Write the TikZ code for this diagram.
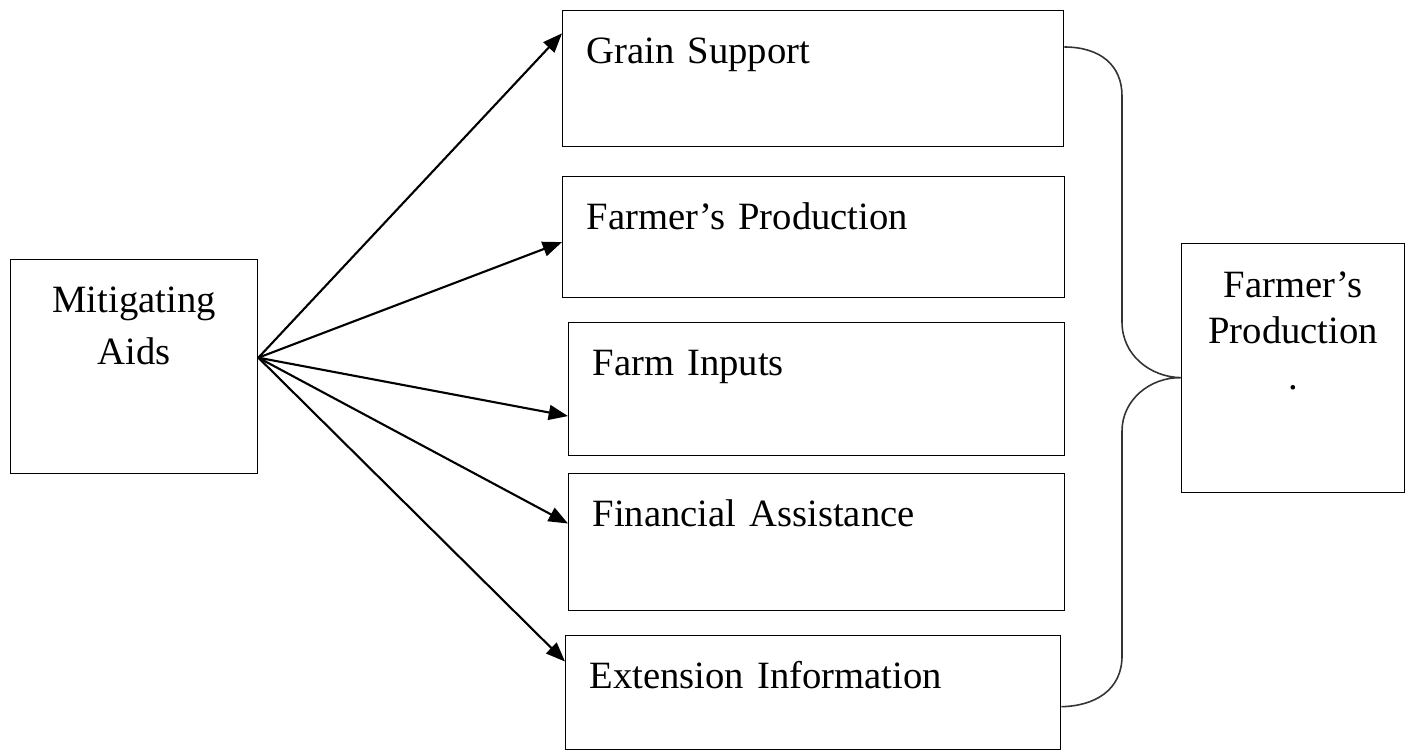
\documentclass[tikz,border=0pt]{standalone}
\usepackage{fontspec}
\setmainfont{Liberation Serif}
\usetikzlibrary{arrows.meta, calc}

\begin{document}
\begin{tikzpicture}[x=0.02cm, y=-0.02cm, >={Triangle[length=11pt,width=8.5pt]},
  every node/.style={font=\fontsize{22}{26}\selectfont},
  aidbox/.style={draw, line width=0.8pt, anchor=north west, inner ysep=0pt, inner xsep=0.48cm, align=left, text height=1.06cm},
  link/.style={->, line width=1.2pt}]

\useasboundingbox (0,0) rectangle (1409,751);

% Source box
\node[aidbox, align=center, inner xsep=0pt, text width=4.94cm, text depth=3.22cm, font=\fontsize{22}{29.5}\selectfont] (aids) at (10,259) {Mitigating\\Aids};

% Aid boxes
\node[aidbox, text width=9.06cm, text depth=1.66cm] (grain) at (562,10) {Grain Support};
\node[aidbox, text width=9.08cm, text depth=1.36cm] (prod) at (562,176) {Farmer’s Production};
\node[aidbox, text width=8.96cm, text depth=1.60cm] (inputs) at (568,322) {Farm Inputs};
\node[aidbox, text width=8.96cm, text depth=1.68cm] (finance) at (568,473) {Financial Assistance};
\node[aidbox, text width=8.94cm, text depth=1.22cm] (ext) at (565,635) {Extension Information};

% Outcome box
\node[aidbox, align=center, inner xsep=0pt, text width=4.46cm, text height=1.08cm, text depth=3.9cm] (farmer) at (1181,243) {Farmer’s\\Production\\.};

% Connections (source to aids)
\coordinate (hub) at ([yshift=0.18cm]aids.east);
\draw[link] (hub) -- ($(grain.north west)!0.17!(grain.south west)$);
\draw[link] (hub) -- ($(prod.north west)!0.54!(prod.south west)$);
\draw[link] (hub) -- ($(inputs.north west)!0.70!(inputs.south west)$);
\draw[link] (hub) -- ($(finance.north west)!0.365!(finance.south west)$);
\draw[link] (hub) -- ($(ext.north west)!0.23!(ext.south west)$);

% Brace (aids to outcome)
\coordinate (top) at ([yshift=-0.74cm]grain.north east);
\coordinate (bot) at ([yshift=-0.28cm]ext.east);
\coordinate (tip) at ([yshift=-0.19cm]farmer.west);
\draw[line width=0.9pt, black!80] (top) .. controls (1100,47) and (1122,65) .. (1122,96) -- (1122,322)
  .. controls (1122,355) and (1150,377) .. (tip)
  .. controls (1150,377) and (1122,400) .. (1122,431) -- (1122,656)
  .. controls (1122,690) and (1095,706) .. (bot);

\end{tikzpicture}
\end{document}
